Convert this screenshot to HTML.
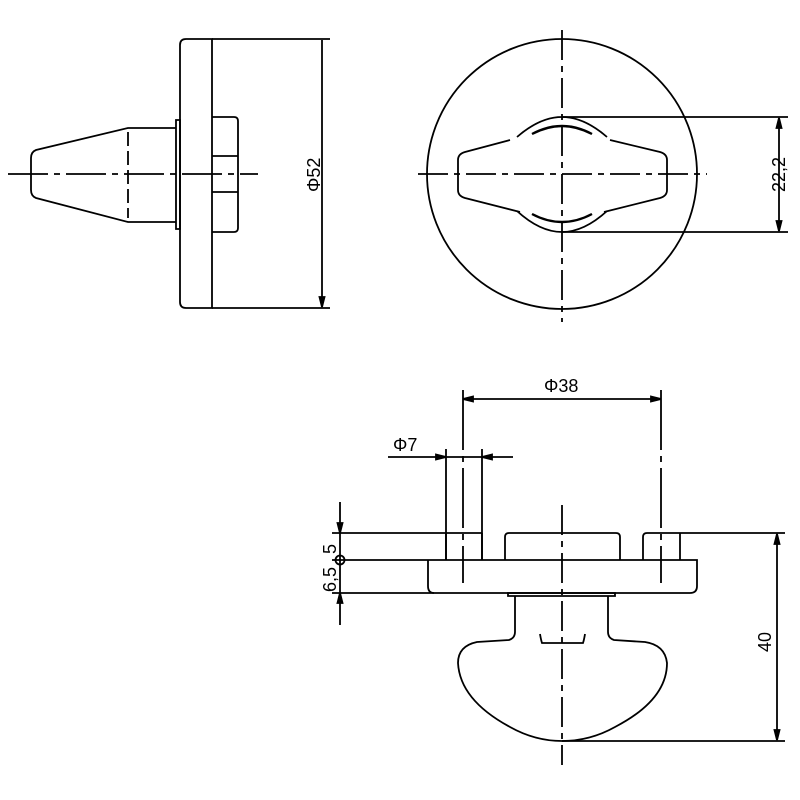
<!DOCTYPE html>
<html><head><style>body{margin:0;background:#fff}svg{display:block}</style></head><body>
<svg width="800" height="800" viewBox="0 0 800 800" xmlns="http://www.w3.org/2000/svg" font-family="Liberation Sans, sans-serif">
<g fill="none" stroke="#000" stroke-width="1.8">
<!-- Side view top-left -->
<path d="M212,39 L186,39 Q180,39 180,45 L180,302 Q180,308 186,308 L212,308 Z"/>
<path d="M212,39 H330 M212,308 H330"/>
<path d="M322,40 V307"/>
<path d="M322,307 l-2.5,-10 h5 z" fill="#000"/>
<path d="M176,120 H180 V229 H176 Z"/>
<path d="M176,128 H128 L36,150 Q31,152 31,158 L31,190 Q31,196 36,198 L128,222 H176"/>
<path d="M128,132 V218" stroke-dasharray="14,5"/>
<path d="M212,117 H234 Q238,117 238,121 V228 Q238,232 234,232 H212"/>
<path d="M212,156 H238 M212,192 H238"/>
<path d="M8,174 H258" stroke-dasharray="40,6,6,6"/>
<!-- Front view top-right -->
<circle cx="562" cy="174" r="135"/>
<path d="M562,30 V322" stroke-dasharray="30,6,6,6"/>
<path d="M418,174 H707" stroke-dasharray="30,6,6,6"/>
<path d="M510,140 L465,152 Q458,154 458,160 L458,190 Q458,196 465,198 L520,212 M604,212 L660,198 Q667,196 667,190 L667,160 Q667,154 660,152 L610,140"/>
<path d="M517,137 Q540,117 562,117 Q584,117 607,137"/>
<path d="M517,211 Q540,232 562,232 Q584,232 607,211"/>
<path d="M532,134 Q562,118 592,134 M532,214 Q562,230 592,214" stroke-width="2.4"/>
<path d="M562,117 H788 M562,232 H788"/>
<path d="M779,118 V231"/>
<path d="M779,118 l-2.5,10 h5 z M779,231 l-2.5,-10 h5 z" fill="#000"/>
<!-- Bottom view -->
<path d="M463,390 V583 M661,390 V583" stroke-dasharray="60,6,6,6"/>
<path d="M463,399 H661"/>
<path d="M463,399 l10,-2.5 v5 z M661,399 l-10,-2.5 v5 z" fill="#000"/>
<path d="M388,457 H513 M446,449 V560 M482,449 V560"/>
<path d="M446,457 l-10,-2.5 v5 z M482,457 l10,-2.5 v5 z" fill="#000"/>
<path d="M332,533 H482 M446,533 V560 M482,533 V560"/>
<path d="M332,560 H697 Q697,560 697,566 V586 Q697,593 690,593 H434 Q428,593 428,586 V560"/>
<path d="M332,593 H434"/>
<path d="M505,560 V537 Q505,533 509,533 H616 Q620,533 620,537 V560"/>
<path d="M643,560 V537 Q643,533 647,533 H680 V560 M680,533 H785"/>
<path d="M340,502 V625"/>
<path d="M340,533 l-2.5,-10 h5 z M340,593 l-2.5,10 h5 z" fill="#000"/>
<circle cx="340" cy="560" r="4.5"/>
<path d="M777,534 V740"/>
<path d="M777,534 l-2.5,10 h5 z M777,740 l-2.5,-10 h5 z" fill="#000"/>
<path d="M562,741 H785"/>
<path d="M508,593 H615 V596 H508 Z"/>
<path d="M515,596 V632 Q515,638 509,640 L477,642 Q458,646 458,663 Q460,700 510,727 Q535,741 562,741 Q590,741 615,727 Q667,700 667,663 Q665,645 645,642 L614,640 Q608,638 608,632 V596"/>
<path d="M540,634 Q541,640 542,643 H583 Q584,640 585,634"/>
<path d="M562,505 V765" stroke-dasharray="30,6,6,6"/>
</g>
<g fill="#000" font-size="18">
<text x="0" y="0" transform="translate(320,192) rotate(-90)">Φ52</text>
<text x="0" y="0" transform="translate(785,192) rotate(-90)">22,2</text>
<text x="544" y="392">Φ38</text>
<text x="393" y="451">Φ7</text>
<text x="0" y="0" transform="translate(771,652) rotate(-90)">40</text>
<text x="0" y="0" transform="translate(336,592) rotate(-90)">6,5</text>
<text x="0" y="0" transform="translate(336,554) rotate(-90)">5</text>
</g>
</svg>
</body></html>
